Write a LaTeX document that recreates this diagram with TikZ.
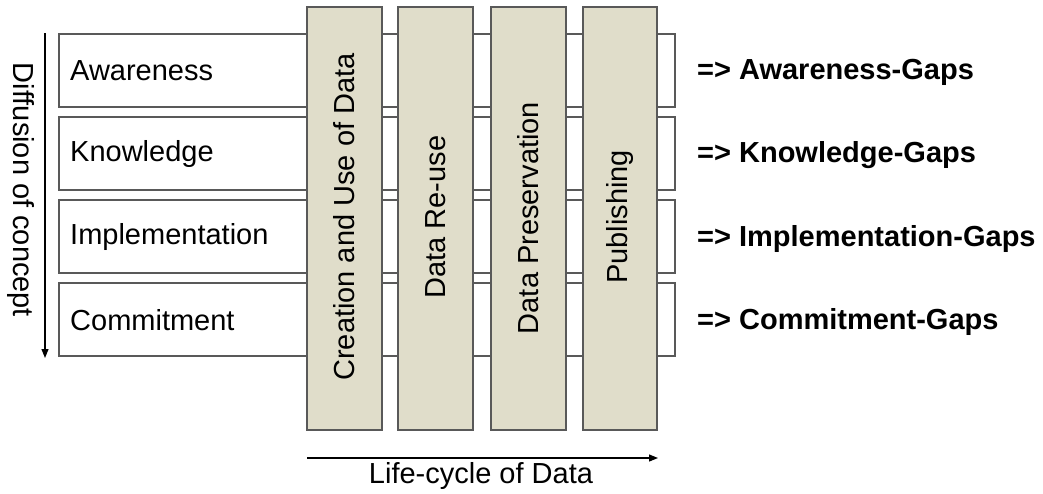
\documentclass[tikz,border=0pt]{standalone}
\usepackage{fontspec}
\setmainfont{Liberation Sans}
\usetikzlibrary{arrows.meta}
\begin{document}
\begin{tikzpicture}[x=1pt,y=-1pt,
  rowbox/.style={draw=black!65,line width=1.4pt,fill=white},
  colbox/.style={draw=black!65,line width=1.4pt,fill={rgb,255:red,224;green,221;blue,202}},
  lbl/.style={font=\fontsize{29}{34}\selectfont,inner sep=0pt},
  gap/.style={font=\fontsize{29}{34}\selectfont\bfseries,inner sep=0pt,anchor=west},
  axis/.style={line width=1.2pt,-{Triangle[length=9pt,width=7pt]}}]
\useasboundingbox (0,0) rectangle (1043,493);
% rows
\draw[rowbox] (59,34) rectangle (675,107);
\draw[rowbox] (59,117) rectangle (675,190);
\draw[rowbox] (59,200) rectangle (675,273);
\draw[rowbox] (59,283) rectangle (675,356);
\node[lbl,anchor=west] (aw) at (70,71) {Awareness};
\node[lbl,anchor=west] (kn) at (70,154) {Knowledge};
\node[lbl,anchor=west] (im) at (70,237) {Implementation};
\node[lbl,anchor=west] (co) at (70,320) {Commitment};
% columns
\draw[colbox] (307,7) rectangle (382,430);
\draw[colbox] (398,7) rectangle (473,430);
\draw[colbox] (491,7) rectangle (566,430);
\draw[colbox] (583,7) rectangle (657,430);
\node[lbl,rotate=90] (c1) at (344.5,217) {Creation and Use of Data};
\node[lbl,rotate=90] (c2) at (435.5,217) {Data Re-use};
\node[lbl,rotate=90] (c3) at (528.5,218) {Data Preservation};
\node[lbl,rotate=90] (c4) at (620,217) {Publishing};
% gaps
\node[gap] (g1) at (697,72) {=> Awareness-Gaps};
\node[gap] (g2) at (697,155) {=> Knowledge-Gaps};
\node[gap] (g3) at (697,239) {=> Implementation-Gaps};
\node[gap] (g4) at (697,322) {=> Commitment-Gaps};
% axes
\coordinate (d0) at (45,33);
\coordinate (d1) at (45,358);
\draw[axis] (d0) -- (d1);
\node[lbl,rotate=-90] (dl) at (21,190) {Diffusion of concept};
\coordinate (l0) at (307,458);
\coordinate (l1) at (658,458);
\draw[axis] (l0) -- (l1);
\node[lbl] (ll) at (481,476) {Life-cycle of Data};
\end{tikzpicture}
\end{document}
